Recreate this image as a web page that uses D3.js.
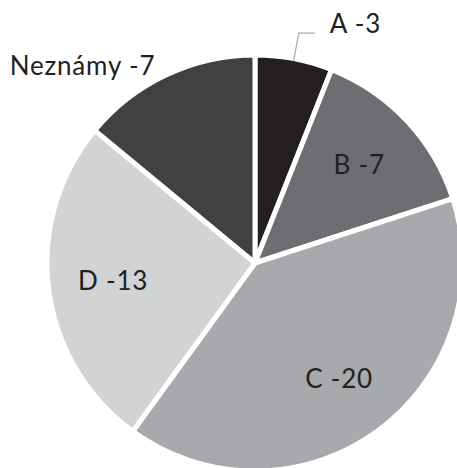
<!DOCTYPE html>
<html>
<head>
<meta charset="utf-8">
<script src="https://cdn.jsdelivr.net/npm/d3@7"></script>
<style>
  html, body { margin: 0; padding: 0; background: #fff; }
  text { font-family: Lato, "Open Sans", sans-serif; fill: #231f20; letter-spacing: 0.8px; }
</style>
</head>
<body>
<div id="chart"></div>
<script>
"use strict"

// data
const categories = ["A", "B", "C", "D", "Neznámy"];
const values = [3, 7, 20, 13, 7];
const colors = ["#231f20", "#6d6e71", "#a7a9ac", "#d1d3d4", "#414042"];

const width = 457;
const height = 468;
const cx = 255;
const cy = 263;
const radius = 208;
const fontSize = 26;

const svg = d3.select("#chart").append("svg")
    .attr("width", width)
    .attr("height", height);

const g = svg.append("g")
    .attr("transform", `translate(${cx},${cy})`);

const pie = d3.pie().sort(null).value(d => d.value);
const arcs = pie(categories.map((c, i) => ({ name: c, value: values[i], color: colors[i] })));

const arc = d3.arc().innerRadius(0).outerRadius(radius);
const labelArc = d3.arc().innerRadius(143).outerRadius(143);
const outerArc = d3.arc().innerRadius(222).outerRadius(222);
const elbowArc = d3.arc().innerRadius(234).outerRadius(234);
const edgeArc = d3.arc().innerRadius(radius - 2).outerRadius(radius - 2);

// slices, white gaps between them
g.selectAll("path.slice")
    .data(arcs)
    .join("path")
    .attr("class", "slice")
    .attr("d", arc)
    .attr("fill", d => d.data.color)
    .attr("stroke", "#fff")
    .attr("stroke-width", 5)
    .attr("stroke-linejoin", "round");

const label = d => `${d.data.name} -${d.data.value}`;

// labels inside big slices
g.selectAll("text.inner")
    .data(arcs.filter(d => ["B", "C", "D"].includes(d.data.name)))
    .join("text")
    .attr("class", "inner")
    .attr("transform", d => `translate(${labelArc.centroid(d)})`)
    .attr("text-anchor", "middle")
    .attr("dy", "0.36em")
    .attr("font-size", fontSize)
    .text(label);

// A: small slice with a leader line
const a = arcs[0];
const p0 = edgeArc.centroid(a);
const p1 = elbowArc.centroid(a);
const p2 = [p1[0] + 16, p1[1]];
g.append("polyline")
    .attr("points", [p0, p1, p2].map(p => p.join(",")).join(" "))
    .attr("fill", "none")
    .attr("stroke", "#a7a9ac")
    .attr("stroke-width", 1.2);
g.append("text")
    .attr("x", p2[0] + 15)
    .attr("y", p2[1])
    .attr("font-size", fontSize)
    .text(label(a));

// Neznámy: outside, no line
const n = arcs[4];
g.append("text")
    .attr("transform", `translate(${outerArc.centroid(n)})`)
    .attr("text-anchor", "end")
    .attr("dx", "-0.2em")
    .attr("dy", "0.48em")
    .attr("font-size", fontSize)
    .text(label(n));
</script>
</body>
</html>
